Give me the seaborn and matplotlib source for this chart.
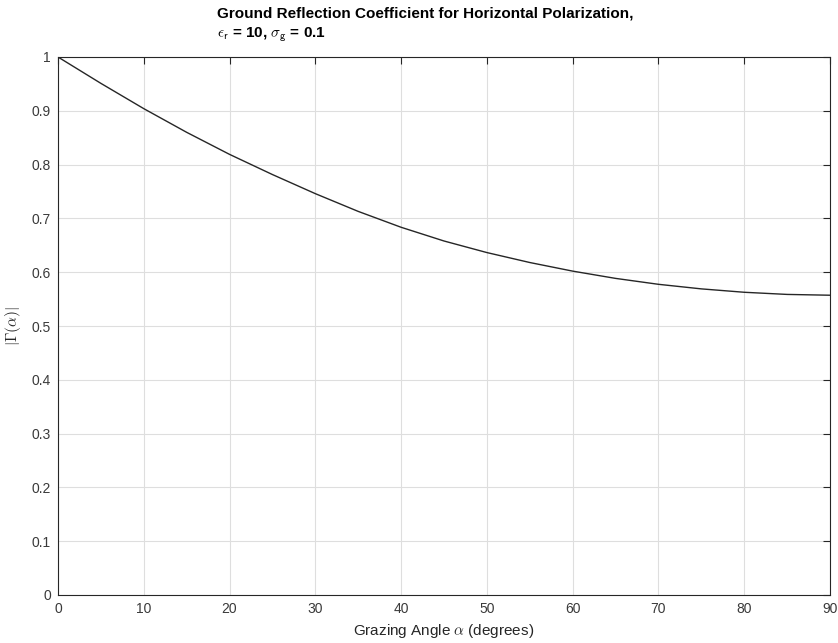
import matplotlib
matplotlib.use("Agg")
import matplotlib.pyplot as plt
import seaborn as sns
import pandas as pd

# Grazing angle (degrees) and magnitude of the reflection coefficient
grazing_angle = [0, 5, 10, 15, 20, 25, 30, 35, 40, 45,
                 50, 55, 60, 65, 70, 75, 80, 85, 90]
gamma_mag = [1.000, 0.951, 0.904, 0.860, 0.819, 0.7815, 0.746, 0.713, 0.6835, 0.658,
             0.6365, 0.618, 0.602, 0.5885, 0.5775, 0.569, 0.5627, 0.5587, 0.5572]

x_ticks = [0, 10, 20, 30, 40, 50, 60, 70, 80, 90]
y_ticks = [0, 0.1, 0.2, 0.3, 0.4, 0.5, 0.6, 0.7, 0.8, 0.9, 1]
y_tick_labels = ["0", "0.1", "0.2", "0.3", "0.4", "0.5", "0.6", "0.7", "0.8", "0.9", "1"]

title_line1 = "Ground Reflection Coefficient for Horizontal Polarization,"
title_line2 = r"$\epsilon_\mathsf{r}$ = 10, $\sigma_\mathsf{g}$ = 0.1"
x_label = r"Grazing Angle $\alpha$ (degrees)"
y_label = r"$|\Gamma(\alpha)|$"

sns.set_style("white")
plt.rcParams["font.family"] = ["Liberation Sans", "DejaVu Sans"]
plt.rcParams["mathtext.fontset"] = "cm"

df = pd.DataFrame({"angle": grazing_angle, "gamma": gamma_mag})

fig = plt.figure(figsize=(8.38, 6.43), dpi=100)
ax = fig.add_axes([58 / 838, 1 - 595 / 643, (830 - 58) / 838, (595 - 57) / 643])

sns.lineplot(data=df, x="angle", y="gamma", ax=ax, color="#262626", linewidth=1.0)

ax.set_xlim(0, 90)
ax.set_ylim(0, 1)
ax.set_xticks(x_ticks)
ax.set_xticklabels([str(t) for t in x_ticks])
ax.set_yticks(y_ticks)
ax.set_yticklabels(y_tick_labels)

ax.grid(True, color="#dedede", linewidth=0.8)
ax.set_axisbelow(True)
for s in ax.spines.values():
    s.set_visible(True)
    s.set_color("#262626")
    s.set_linewidth(0.8)

ax.tick_params(axis="both", which="both", direction="in", length=5, width=0.8,
               top=True, right=True, color="#262626", labelcolor="#3a3a3a",
               labelsize=10, pad=5)

ax.set_xlabel(x_label, fontsize=11, color="#262626", labelpad=4)
ax.set_ylabel(y_label, fontsize=11, color="#262626", labelpad=6)

fig.text(217 / 838, 1 - 14 / 643, title_line1, ha="left", va="center",
         fontsize=11, fontweight="bold", color="black")
fig.text(217 / 838, 1 - 35 / 643, title_line2, ha="left", va="center",
         fontsize=11, fontweight="bold", color="black")

fig.savefig("out.png", dpi=100)
